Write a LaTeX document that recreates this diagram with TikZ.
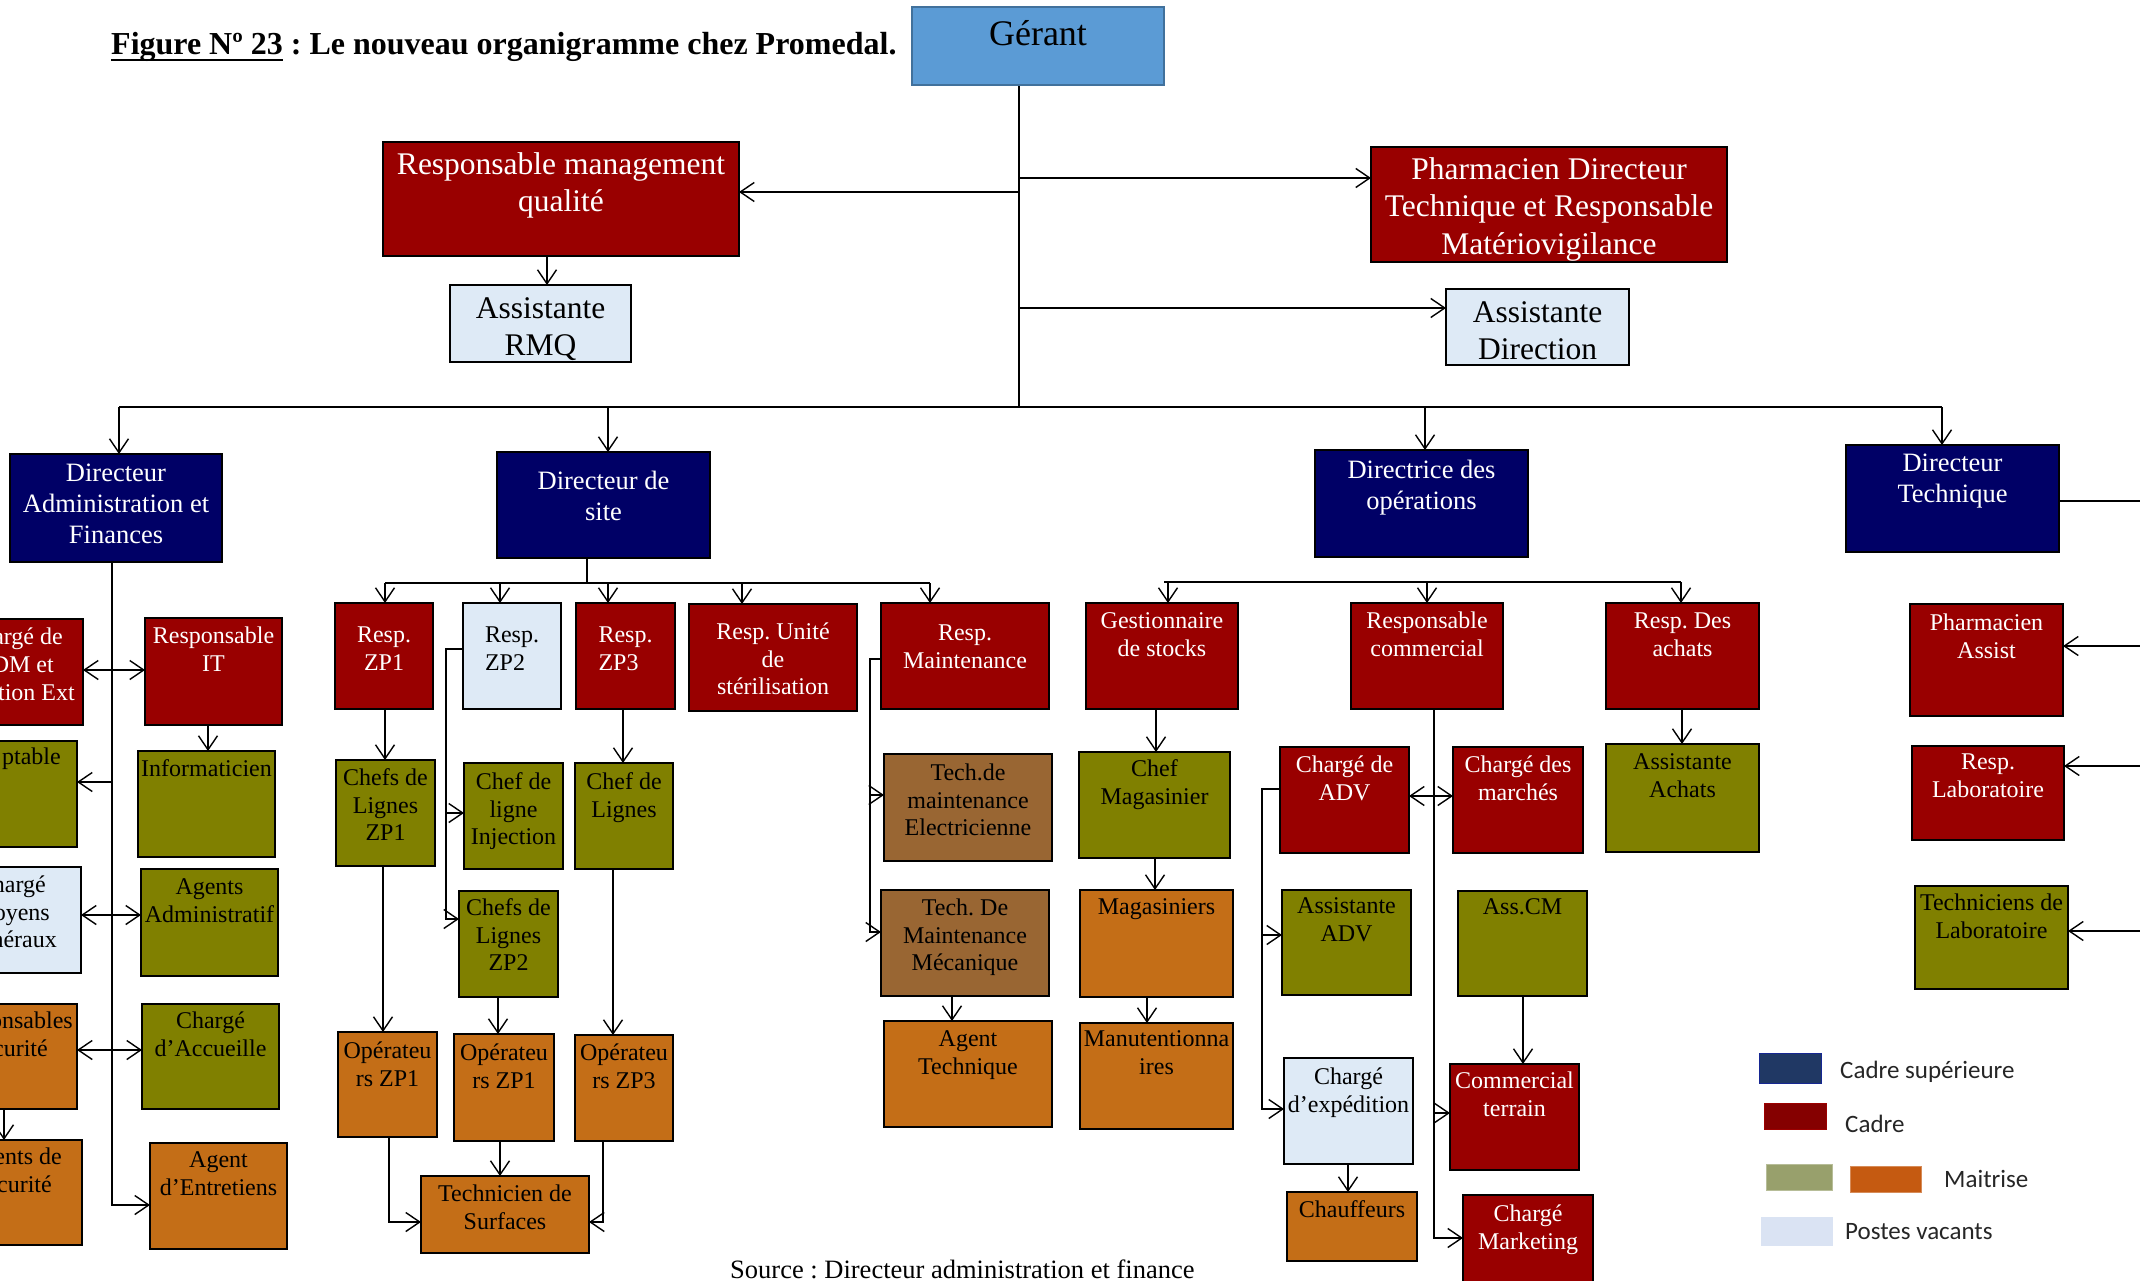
\documentclass[tikz,border=0pt]{standalone}
\usepackage{fontspec}
\setmainfont{Liberation Serif}
\newfontfamily\legfont{Carlito}
\usetikzlibrary{arrows.meta}
\frenchspacing

\definecolor{cRed}{HTML}{990000}
\definecolor{cNavy}{HTML}{000066}
\definecolor{cOlive}{HTML}{808000}
\definecolor{cOrange}{HTML}{C46E17}
\definecolor{cBrown}{HTML}{996633}
\definecolor{cVac}{HTML}{DEEAF6}
\definecolor{cGer}{HTML}{5B9BD5}
\definecolor{cGerEdge}{HTML}{41719C}
\definecolor{lgNavy}{HTML}{203864}
\definecolor{lgRed}{HTML}{850000}
\definecolor{lgOlive}{HTML}{98A06C}
\definecolor{lgOrange}{HTML}{C55A11}
\definecolor{lgVac}{HTML}{DAE3F3}

\tikzset{
  bx/.style={rectangle, draw=black, line width=2.6pt, inner sep=0pt, outer sep=0pt},
  cadrebox/.style={bx, fill=cRed},
  dirbox/.style={bx, fill=cNavy},
  olivebox/.style={bx, fill=cOlive},
  orangebox/.style={bx, fill=cOrange},
  brownbox/.style={bx, fill=cBrown},
  vacbox/.style={bx, fill=cVac},
  gerbox/.style={rectangle, draw=cGerEdge, line width=2.4pt, fill=cGer, inner sep=0pt},
  wt/.style={text=white},
  bt/.style={text=black},
  Fone/.style={font=\fontsize{31.5}{37.5}\selectfont},
  Ftwo/.style={font=\fontsize{26.5}{31}\selectfont},
  Fthree/.style={font=\fontsize{24}{27.5}\selectfont},
  Lone/.style={Fone, yshift=10.7pt},
  Ltwo/.style={Ftwo, yshift=9pt},
  Lthree/.style={Fthree, yshift=8.2pt},
  Lger/.style={font=\fontsize{36}{40}\selectfont, yshift=12.2pt},
  ln/.style={draw=black, line width=1.4pt},
  arr/.style={ln, ->},
  darr/.style={ln, <->},
  legtxt/.style={anchor=base west, inner sep=0pt, font=\legfont\fontsize{25}{30}\selectfont, text=black!85},
  legbox/.style={rectangle, inner sep=0pt, line width=0.8pt},
}

% box only: name, style, x1, y1, x2, y2
\newcommand\bxonly[6]{%
  \node[#2, minimum width={(#5-(#3))*1pt}, minimum height={(#6-(#4))*1pt}] (#1) at ({((#3)+(#5))/2},{((#4)+(#6))/2}) {};}
% box with text: name, box style, text style, x1, y1, x2, y2, first-line y, text
\newcommand\ob[9]{%
  \bxonly{#1}{#2}{#4}{#5}{#6}{#7}%
  \node[anchor=north, align=center, inner sep=0pt, #3] (#1-t) at ({((#4)+(#6))/2},#8) {#9};}
% text fragment ending at a given x, on a given baseline
\newcommand\frag[5]{\node[anchor=base east, inner sep=0pt, Fthree, #5] (#1) at (#2,#3) {#4};}

\begin{document}
\begin{tikzpicture}[x=1pt, y=-1pt, >={Straight Barb[length=14pt,width=19pt]}]
\useasboundingbox (0,0) rectangle (2140,1281);
\fill[white] (0,0) rectangle (2140,1281);
\clip (0,0) rectangle (2140,1281);

% ---------- title ----------
\node[anchor=base west, inner sep=0pt, font=\fontsize{32}{36}\selectfont\bfseries] (title) at (111,55)
  {Figure Nº 23 : Le nouveau organigramme chez Promedal.};
\draw[line width=2.6pt] ([yshift=-5pt]title.base west) -- ++(172,0);

% ---------- top level ----------
\ob{gerant}{gerbox}{bt,Lger}{912}{7}{1164}{85}{32}{Gérant}
\ob{rmq}{cadrebox}{wt,Lone}{383}{142}{739}{256}{163}{Responsable management\\qualité}
\ob{asrmq}{vacbox}{bt,Lone}{450}{285}{631}{362}{308}{Assistante\\RMQ}
\ob{pdt}{cadrebox}{wt,Lone}{1371}{147}{1727}{262}{168}{Pharmacien Directeur\\Technique et Responsable\\Matériovigilance}
\ob{asdir}{vacbox}{bt,Lone}{1446}{289}{1629}{365}{312}{Assistante\\Direction}

% ---------- directors ----------
\ob{daf}{dirbox}{wt,Ltwo}{10}{454}{222}{562}{473}{Directeur\\Administration et\\Finances}
\ob{ds}{dirbox}{wt,Ltwo}{497}{452}{710}{558}{480}{Directeur de\\site}
\ob{dop}{dirbox}{wt,Ltwo}{1315}{450}{1528}{557}{469}{Directrice des\\opérations}
\ob{dt}{dirbox}{wt,Ltwo}{1846}{445}{2059}{552}{463}{Directeur\\Technique}

% ---------- administration & finances ----------
\bxonly{cdm}{cadrebox}{-20}{619}{83}{725}
\frag{cdm-a}{63}{644}{argé de}{wt}
\frag{cdm-b}{54}{672}{DM et}{wt}
\frag{cdm-c}{75}{700}{tion Ext}{wt}
\bxonly{cpt}{olivebox}{-20}{741}{77}{847}
\frag{cpt-a}{61}{764}{ptable}{bt}
\bxonly{cmg}{vacbox}{-20}{867}{81}{973}
\frag{cmg-a}{46}{892}{hargé}{bt}
\frag{cmg-b}{50}{920}{oyens}{bt}
\frag{cmg-c}{57}{947}{néraux}{bt}
\bxonly{rsec}{orangebox}{-20}{1004}{77}{1109}
\frag{rsec-a}{73}{1028}{onsables}{bt}
\frag{rsec-b}{48}{1056}{curité}{bt}
\bxonly{asec}{orangebox}{-20}{1140}{82}{1245}
\frag{asec-a}{62}{1164}{ents de}{bt}
\frag{asec-b}{52}{1192}{curité}{bt}

\ob{rit}{cadrebox}{wt,Lthree}{145}{618}{282}{725}{635}{Responsable\\IT}
\ob{info}{olivebox}{bt,Lthree}{138}{751}{275}{857}{768}{Informaticien}
\ob{aadm}{olivebox}{bt,Lthree}{141}{869}{278}{976}{887}{Agents\\Administratif}
\ob{acc}{olivebox}{bt,Lthree}{142}{1004}{279}{1109}{1020}{Chargé\\d’Accueille}
\ob{aent}{orangebox}{bt,Lthree}{150}{1143}{287}{1249}{1160}{Agent\\d’Entretiens}

% ---------- site ----------
\ob{zp1}{cadrebox}{wt,Lthree}{335}{603}{433}{709}{635}{Resp.\\ZP1}
\ob{zp2}{vacbox}{bt,Lthree,align=left}{463}{603}{561}{709}{635}{Resp.\\ZP2}
\ob{zp3}{cadrebox}{wt,Lthree,align=left}{576}{603}{675}{709}{635}{Resp.\\ZP3}
\ob{ster}{cadrebox}{wt,Lthree}{689}{604}{857}{711}{631}{Resp. Unité\\de\\stérilisation}
\ob{maint}{cadrebox}{wt,Lthree}{881}{603}{1049}{709}{633}{Resp.\\Maintenance}
\ob{clzp1}{olivebox}{bt,Lthree}{336}{760}{435}{866}{777}{Chefs de\\Lignes\\ZP1}
\ob{clinj}{olivebox}{bt,Lthree}{464}{763}{563}{869}{781}{Chef de\\ligne\\Injection}
\ob{clzp3}{olivebox}{bt,Lthree}{575}{763}{673}{869}{781}{Chef de\\Lignes}
\ob{clzp2}{olivebox}{bt,Lthree}{459}{891}{558}{997}{907}{Chefs de\\Lignes\\ZP2}
\ob{op1}{orangebox}{bt,Lthree}{338}{1032}{437}{1137}{1050}{Opérateu\\rs ZP1}
\ob{op2}{orangebox}{bt,Lthree}{454}{1034}{554}{1141}{1052}{Opérateu\\rs ZP1}
\ob{op3}{orangebox}{bt,Lthree}{575}{1035}{673}{1141}{1052}{Opérateu\\rs ZP3}
\ob{tsurf}{orangebox}{bt,Lthree}{421}{1176}{589}{1253}{1193}{Technicien de\\Surfaces}
\ob{telec}{brownbox}{bt,Lthree}{884}{754}{1052}{861}{772}{Tech.de\\maintenance\\Electricienne}
\ob{tmeca}{brownbox}{bt,Lthree}{881}{890}{1049}{996}{907}{Tech. De\\Maintenance\\Mécanique}
\ob{atech}{orangebox}{bt,Lthree}{884}{1021}{1052}{1127}{1039}{Agent\\Technique}

% ---------- operations ----------
\ob{gest}{cadrebox}{wt,Lthree}{1086}{603}{1238}{709}{621}{Gestionnaire\\de stocks}
\ob{rcom}{cadrebox}{wt,Lthree}{1351}{603}{1503}{709}{620}{Responsable\\commercial}
\ob{rach}{cadrebox}{wt,Lthree}{1606}{603}{1759}{709}{621}{Resp. Des\\achats}
\ob{chmag}{olivebox}{bt,Lthree}{1079}{752}{1230}{858}{768}{Chef\\Magasinier}
\ob{mag}{orangebox}{bt,Lthree}{1080}{890}{1233}{997}{907}{Magasiniers}
\ob{manu}{orangebox}{bt,Lthree}{1080}{1023}{1233}{1129}{1039}{Manutentionna\\ires}
\ob{cadv}{cadrebox}{wt,Lthree}{1280}{747}{1409}{853}{764}{Chargé de\\ADV}
\ob{cmar}{cadrebox}{wt,Lthree}{1453}{747}{1583}{853}{764}{Chargé des\\marchés}
\ob{asach}{olivebox}{bt,Lthree}{1606}{744}{1759}{852}{762}{Assistante\\Achats}
\ob{asadv}{olivebox}{bt,Lthree}{1282}{890}{1411}{995}{906}{Assistante\\ADV}
\ob{asscm}{olivebox}{bt,Lthree}{1458}{891}{1587}{996}{907}{Ass.CM}
\ob{cexp}{vacbox}{bt,Lthree}{1284}{1058}{1413}{1164}{1076}{Chargé\\d’expédition}
\ob{cter}{cadrebox}{wt,Lthree}{1450}{1064}{1579}{1170}{1080}{Commercial\\terrain}
\ob{chauf}{orangebox}{bt,Lthree}{1287}{1192}{1417}{1261}{1209}{Chauffeurs}
\ob{cmkt}{cadrebox}{wt,Lthree}{1463}{1195}{1593}{1300}{1213}{Chargé\\Marketing}

% ---------- technique ----------
\ob{pass}{cadrebox}{wt,Lthree}{1910}{604}{2063}{716}{622}{Pharmacien\\Assist}
\ob{rlab}{cadrebox}{wt,Lthree}{1912}{746}{2064}{840}{762}{Resp.\\Laboratoire}
\ob{tlab}{olivebox}{bt,Lthree}{1915}{886}{2068}{989}{902}{Techniciens de\\Laboratoire}

% ---------- connectors: top ----------
\coordinate (busL) at (119,407);
\coordinate (busM) at (1019,407);
\coordinate (busR) at (1942,407);
\draw[ln] (gerant.south -| busM) -- (busM);
\draw[ln] (busL) -- (busR);
\draw[arr] (busM |- 0,192) -- (rmq.east |- 0,192);
\draw[arr] (busM |- 0,178) -- (pdt.west |- 0,178);
\draw[arr] (busM |- 0,308) -- (asdir.west |- 0,308);
\draw[arr] (rmq.south -| 547,0) -- (asrmq.north -| 547,0);
\draw[arr] (busL) -- (daf.north -| busL);
\draw[arr] (busL -| 608,0) -- (ds.north -| 608,0);
\draw[arr] (busL -| 1425,0) -- (dop.north -| 1425,0);
\draw[arr] (busR) -- (dt.north -| busR);

% ---------- connectors: administration & finances ----------
\coordinate (dafEnd) at (112,1205);
\draw[arr] (daf.south -| dafEnd) -- (dafEnd) -- (aent.west |- dafEnd);
\draw[darr] (cdm.east |- 0,670) -- (rit.west |- 0,670);
\draw[arr] (dafEnd |- 0,782) -- (cpt.east |- 0,782);
\draw[darr] (cmg.east |- 0,915) -- (aadm.west |- 0,915);
\draw[darr] (rsec.east |- 0,1050) -- (acc.west |- 0,1050);
\draw[arr] (rit.south -| 208,0) -- (info.north -| 208,0);
\draw[arr] (rsec.south -| 4,0) -- (asec.north -| 4,0);

% ---------- connectors: site ----------
\coordinate (dsbusL) at (385,583);
\coordinate (dsbusR) at (930,583);
\draw[ln] (ds.south -| 587,0) -- (dsbusL -| 587,0);
\draw[ln] (dsbusL) -- (dsbusR);
\draw[arr] (dsbusL) -- (zp1.north -| dsbusL);
\draw[arr] (dsbusL -| 500,0) -- (zp2.north -| 500,0);
\draw[arr] (dsbusL -| 608,0) -- (zp3.north -| 608,0);
\draw[arr] (dsbusL -| 742,0) -- (ster.north -| 742,0);
\draw[arr] (dsbusR) -- (maint.north -| dsbusR);
\draw[arr] (zp1.south -| 385,0) -- (clzp1.north -| 385,0);
\coordinate (zp2side) at (446,813);
\draw[arr] (zp2.west |- 0,649) -- (zp2side |- 0,649) -- (zp2side) -- (clinj.west |- zp2side);
\draw[arr] (zp2side) -- (zp2side |- 0,919) -- (clzp2.west |- 0,919);
\draw[arr] (zp3.south -| 623,0) -- (clzp3.north -| 623,0);
\draw[arr] (clzp1.south -| 383,0) -- (op1.north -| 383,0);
\draw[arr] (clzp2.south -| 498,0) -- (op2.north -| 498,0);
\draw[arr] (clzp3.south -| 613,0) -- (op3.north -| 613,0);
\draw[arr] (op2.south -| 500,0) -- (tsurf.north -| 500,0);
\draw[arr] (op1.south -| 389,0) -- (389,1222) -- (tsurf.west |- 0,1222);
\draw[arr] (op3.south -| 603,0) -- (603,1222) -- (tsurf.east |- 0,1222);
\coordinate (mside) at (870,795);
\draw[arr] (maint.west |- 0,659) -- (mside |- 0,659) -- (mside) -- (telec.west |- mside);
\draw[arr] (mside) -- (mside |- 0,932) -- (tmeca.west |- 0,932);
\draw[arr] (tmeca.south -| 952,0) -- (atech.north -| 952,0);

% ---------- connectors: operations ----------
\coordinate (opbusL) at (1164,582);
\coordinate (opbusR) at (1681,582);
\draw[ln] (opbusL) -- (opbusR);
\draw[arr] (opbusL -| 1168,0) -- (gest.north -| 1168,0);
\draw[arr] (opbusL -| 1427,0) -- (rcom.north -| 1427,0);
\draw[arr] (opbusR) -- (rach.north -| opbusR);
\draw[arr] (gest.south -| 1156,0) -- (chmag.north -| 1156,0);
\draw[arr] (chmag.south -| 1155,0) -- (mag.north -| 1155,0);
\draw[arr] (mag.south -| 1147,0) -- (manu.north -| 1147,0);
\coordinate (rcside) at (1434,1113);
\draw[arr] (rcom.south -| rcside) -- (rcside) -- (cter.west |- rcside);
\draw[arr] (rcside) -- (rcside |- 0,1238) -- (cmkt.west |- 0,1238);
\draw[darr] (cadv.east |- 0,796) -- (cmar.west |- 0,796);
\coordinate (adside) at (1262,935);
\draw[arr] (cadv.west |- 0,789) -- (adside |- 0,789) -- (adside) -- (asadv.west |- adside);
\draw[arr] (adside) -- (adside |- 0,1109) -- (cexp.west |- 0,1109);
\draw[arr] (asscm.south -| 1523,0) -- (cter.north -| 1523,0);
\draw[arr] (cexp.south -| 1348,0) -- (chauf.north -| 1348,0);
\draw[arr] (rach.south -| 1682,0) -- (asach.north -| 1682,0);

% ---------- connectors: technique ----------
\coordinate (dtOut) at (2140,501);
\coordinate (edgeA) at (2140,646);
\coordinate (edgeB) at (2140,766);
\coordinate (edgeC) at (2140,931);
\draw[ln] (dt.east |- dtOut) -- (dtOut);
\draw[arr] (edgeA) -- (pass.east |- edgeA);
\draw[arr] (edgeB) -- (rlab.east |- edgeB);
\draw[arr] (edgeC) -- (tlab.east |- edgeC);

% ---------- legend ----------
\node[legbox, fill=lgNavy, draw=lgNavy!70!blue, minimum width=62pt, minimum height=30pt] (lg1) at (1790,1068) {};
\node[legbox, fill=lgRed, draw=lgRed!80!red, minimum width=62pt, minimum height=26pt] (lg2) at (1795,1116) {};
\node[legbox, fill=lgOlive, draw=lgOlive!70!white, minimum width=66pt, minimum height=26pt] (lg3) at (1799,1177) {};
\node[legbox, fill=lgOrange, draw=lgOrange!70!white, minimum width=71pt, minimum height=26pt] (lg4) at (1885.5,1179) {};
\node[legbox, fill=lgVac, draw=lgVac, minimum width=71pt, minimum height=28pt] (lg5) at (1796.5,1231) {};
\node[legtxt] (lgt1) at (1840,1078) {Cadre supérieure};
\node[legtxt] (lgt2) at (1845,1132) {Cadre};
\node[legtxt] (lgt3) at (1944,1187) {Maitrise};
\node[legtxt] (lgt4) at (1845,1239) {Postes vacants};

% ---------- source ----------
\node[anchor=base west, inner sep=0pt, font=\fontsize{26.5}{30}\selectfont] (src) at (730,1278)
  {Source : Directeur administration et finance};
\end{tikzpicture}
\end{document}
